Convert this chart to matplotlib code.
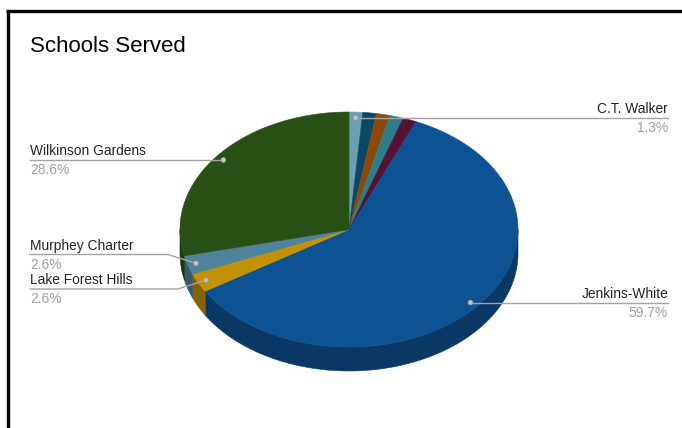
import numpy as np
import matplotlib.pyplot as plt
from matplotlib.patches import Polygon, Circle
from matplotlib.lines import Line2D
from matplotlib.colors import to_rgb

plt.rcParams['font.family'] = ['Liberation Sans', 'DejaVu Sans']

# ---- data ----
schools = ["C.T. Walker", None, None, None, None,
           "Jenkins-White", "Lake Forest Hills", "Murphey Charter", "Wilkinson Gardens"]
shares = [1.3, 1.3, 1.3, 1.3, 1.3, 59.7, 2.6, 2.6, 28.6]
slice_colors = ["#6a9fb5", "#0c4767", "#8c4a0a", "#2b7d8a", "#561134",
                "#0d5394", "#c29200", "#4f8399", "#284f14"]
title = "Schools Served"

# ---- layout (pixel space) ----
W, H = 682, 428
fig = plt.figure(figsize=(W / 100, H / 100), dpi=100)
ax = fig.add_axes([0, 0, 1, 1])
ax.set_xlim(0, W)
ax.set_ylim(H, 0)
ax.axis('off')

# frame lines (left / top) as in screenshot
ax.add_line(Line2D([7.5, 7.5], [10.5, H], color='black', lw=2.4, solid_capstyle='butt'))
ax.add_line(Line2D([6.3, W], [10.5, 10.5], color='black', lw=2.4, solid_capstyle='butt'))

ax.text(30, 46, title, fontsize=16, color='#000000', va='center', ha='left')

cx, cy, rx, ry, depth = 349, 229.5, 169, 117.5, 24


def pt(theta_deg, f=1.0, dy=0.0):
    t = np.radians(theta_deg)
    return cx + f * rx * np.sin(t), cy - f * ry * np.cos(t) + dy


def darker(c, k=0.7):
    r, g, b = to_rgb(c)
    return (r * k, g * k, b * k)


total = float(sum(shares))
bounds = np.concatenate([[0], np.cumsum(shares)]) / total * 360.0

# side walls
for i, c in enumerate(slice_colors):
    a0, a1 = max(bounds[i], 90), min(bounds[i + 1], 270)
    if a1 <= a0:
        continue
    th = np.linspace(a0, a1, 80)
    top = np.array([pt(t) for t in th])
    bot = np.array([pt(t, dy=depth) for t in th[::-1]])
    ax.add_patch(Polygon(np.vstack([top, bot]), closed=True, facecolor=darker(c, 0.68),
                         edgecolor=darker(c, 0.68), lw=0.4))

# top faces
for i, c in enumerate(slice_colors):
    th = np.linspace(bounds[i], bounds[i + 1], max(4, int((bounds[i + 1] - bounds[i]) * 2)))
    arc = np.array([pt(t) for t in th])
    poly = np.vstack([[cx, cy], arc])
    ax.add_patch(Polygon(poly, closed=True, facecolor=c, edgecolor=c, lw=0.4))

# labels
line_col = '#a3a3a3'
items = []
for i, name in enumerate(schools):
    if name is None:
        continue
    mid = (bounds[i] + bounds[i + 1]) / 2
    dx, dy = pt(mid, f=0.95)
    side = 'right' if mid < 180 else 'left'
    items.append(dict(name=name, pct=shares[i] / total * 100, dot=(dx, dy), side=side, ly=dy))

min_gap = 34.5
for side in ('left', 'right'):
    grp = sorted([it for it in items if it['side'] == side], key=lambda d: d['ly'])
    for a, b in zip(grp, grp[1:]):
        if b['ly'] - a['ly'] < min_gap:
            m = (a['ly'] + b['ly']) / 2
            a['ly'], b['ly'] = m - min_gap / 2, m + min_gap / 2

for it in items:
    dx, dy = it['dot']
    ly = it['ly']
    if it['side'] == 'left':
        x_txt, ha = 30, 'left'
        if abs(ly - dy) > 1:
            xs, ys = [30, dx - 28, dx], [ly, ly, dy]
        else:
            xs, ys = [30, dx], [ly, ly]
    else:
        x_txt, ha = 668, 'right'
        if abs(ly - dy) > 1:
            xs, ys = [dx, dx + 28, 668], [dy, ly, ly]
        else:
            xs, ys = [dx, 668], [ly, ly]
    ax.add_line(Line2D(xs, ys, color=line_col, lw=1.0, zorder=5))
    ax.add_patch(Circle((dx, dy), 2.4, facecolor='#c4c4c4', edgecolor='#9a9a9a', lw=0.5, zorder=6))
    ax.text(x_txt, ly - 8.8, it['name'], fontsize=9.9, color='#222222', ha=ha, va='center')
    ax.text(x_txt, ly + 10, f"{it['pct']:.1f}%", fontsize=9.9, color='#9e9e9e', ha=ha, va='center')

fig.savefig('out.png', dpi=100)
